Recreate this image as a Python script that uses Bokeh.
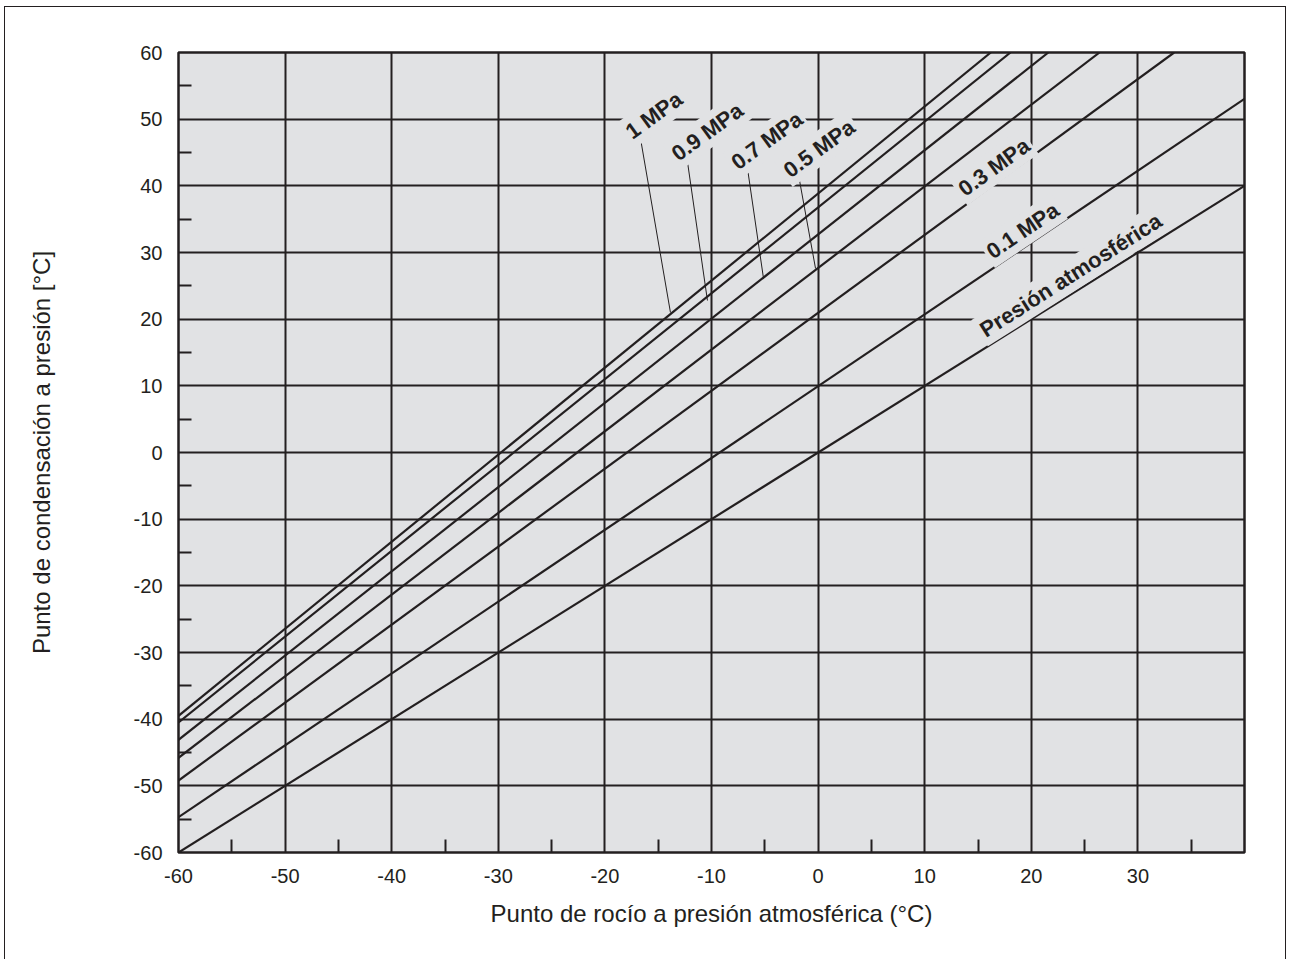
from bokeh.plotting import figure
from bokeh.models import Range1d, Label, FixedTicker, InlineStyleSheet
from bokeh.embed import file_html
from bokeh.resources import INLINE

# ---- data ----
series_names = ["1 MPa", "0.9 MPa", "0.7 MPa", "0.5 MPa", "0.3 MPa", "0.1 MPa", "Presión atmosférica"]
# start points at x = -60
x_start = [-60, -60, -60, -60, -60, -60, -60]
y_start = [-39.5, -40.5, -43.1, -45.8, -49.2, -54.7, -60.0]
# end points (top edge y=60 or right edge x=40)
x_end = [16.2, 18.05, 21.6, 26.4, 33.4, 40.0, 40.0]
y_end = [60.0, 60.0, 60.0, 60.0, 60.0, 53.05, 40.0]

# label positions (data coordinates) and angles
label_x = [-15.4, -10.4, -4.8, 0.1, 16.5, 19.2, 23.7]
label_y = [50.6, 48.1, 46.8, 45.6, 42.8, 33.3, 26.6]
label_angle = [36, 36, 36, 36, 36, 34, 32.5]

# leader lines for the MPa labels near the top
leader_x0 = [-16.66, -12.28, -6.65, -1.81]
leader_y0 = [47.1, 43.9, 42.9, 41.4]
leader_x1 = [-13.85, -10.38, -5.12, -0.24]
leader_y1 = [21.0, 22.8, 26.1, 27.6]

x_ticks = [-60, -50, -40, -30, -20, -10, 0, 10, 20, 30]
x_tick_labels = ["-60", "-50", "-40", "-30", "-20", "-10", "0", "10", "20", "30"]
y_ticks = [-60, -50, -40, -30, -20, -10, 0, 10, 20, 30, 40, 50, 60]
y_tick_labels = ["-60", "-50", "-40", "-30", "-20", "-10", "0", "10", "20", "30", "40", "50", "60"]

INK = "#231f20"
BG = "#e1e2e4"

p = figure(width=1282, height=955, output_backend="svg", toolbar_location=None,
           x_range=Range1d(-60, 40), y_range=Range1d(-60, 60),
           min_border_left=178, min_border_right=38, min_border_top=52, min_border_bottom=103,
           background_fill_color=BG, border_fill_color="white")

p.outline_line_color = INK
p.outline_line_width = 2.5

for ax in (p.xaxis[0], p.yaxis[0]):
    ax.axis_line_color = None
    ax.major_tick_line_color = None
    ax.minor_tick_line_color = INK
    ax.minor_tick_line_width = 2
    ax.minor_tick_in = 13
    ax.minor_tick_out = 0
    ax.major_label_text_font = "Liberation Sans"
    ax.major_label_text_font_size = "20px"
    ax.major_label_text_color = INK
    ax.axis_label_text_font = "Liberation Sans"
    ax.axis_label_text_font_size = "24px"
    ax.axis_label_text_font_style = "normal"
    ax.axis_label_text_color = INK
    ax.major_label_standoff = 10

p.xaxis[0].ticker = FixedTicker(ticks=x_ticks, minor_ticks=list(range(-55, 40, 10)))
p.yaxis[0].ticker = FixedTicker(ticks=y_ticks, minor_ticks=list(range(-55, 60, 10)))
p.xaxis[0].major_label_overrides = dict(zip(x_ticks, x_tick_labels))
p.yaxis[0].major_label_overrides = dict(zip(y_ticks, y_tick_labels))
p.xaxis[0].axis_label = "Punto de rocío a presión atmosférica (°C)"
p.yaxis[0].axis_label = "Punto de condensación a presión [°C]"
p.xaxis[0].axis_label_standoff = 14
p.yaxis[0].axis_label_standoff = 76

p.xgrid.ticker = FixedTicker(ticks=x_ticks)
p.ygrid.ticker = FixedTicker(ticks=y_ticks)
for g in (p.xgrid[0], p.ygrid[0]):
    g.grid_line_color = INK
    g.grid_line_width = 2
    g.grid_line_alpha = 1.0

# curves
p.segment(x0=x_start, y0=y_start, x1=x_end, y1=y_end, line_color=INK, line_width=2.2)

# leaders
p.segment(x0=leader_x0, y0=leader_y0, x1=leader_x1, y1=leader_y1, line_color=INK, line_width=1)

for name, lx, ly, ang in zip(series_names, label_x, label_y, label_angle):
    p.add_layout(Label(x=lx, y=ly, text=name, angle=ang, angle_units="deg",
                       text_align="center", text_baseline="middle",
                       text_font="Liberation Sans", text_font_style="bold",
                       text_font_size="22px", text_color=INK,
                       background_fill_color=BG, padding=3))

p.stylesheets = [InlineStyleSheet(css=(
    ":host { position: relative; }"
    ":host::after { content: ''; position: absolute; left: 4px; top: 6px; right: -4px; "
    "bottom: -40px; border: 1.5px solid #231f20; pointer-events: none; }"
))]

open("out.html", "w").write(file_html(p, INLINE))
